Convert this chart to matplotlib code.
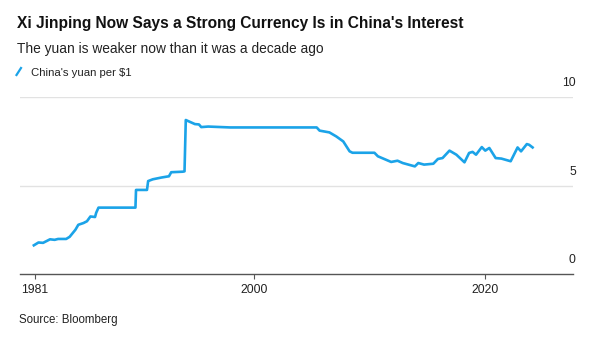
import numpy as np
import matplotlib
matplotlib.use("Agg")
import matplotlib.pyplot as plt
from matplotlib.lines import Line2D

plt.rcParams['font.family'] = ['Liberation Sans', 'DejaVu Sans']

# yuan per US dollar
years = [1980.9, 1981.3, 1981.7, 1982.3, 1982.7, 1983.0, 1983.7, 1984.0,
         1984.5, 1984.75, 1985.2, 1985.5, 1985.8, 1986.2, 1986.3, 1986.5,
         1989.7, 1989.75, 1990.7, 1990.8, 1991.2, 1991.95, 1992.4, 1992.6,
         1992.8, 1993.8, 1993.95, 1994.06, 1994.4, 1994.85, 1995.2, 1995.4,
         1996.0, 1997.9, 2005.4, 2005.65, 2006.5, 2007.1, 2007.7, 2008.25,
         2008.5, 2010.4, 2010.7, 2011.85, 2012.4, 2012.85, 2013.9, 2014.2,
         2014.7, 2015.5, 2015.9, 2016.3, 2016.9, 2017.5, 2018.2, 2018.6,
         2018.9, 2019.2, 2019.7, 2020.0, 2020.35, 2020.9, 2021.4, 2022.2,
         2022.8, 2023.1, 2023.6, 2023.8, 2024.1]
yuan = [1.62, 1.78, 1.76, 1.96, 1.93, 1.98, 1.98, 2.1,
        2.5, 2.78, 2.88, 2.98, 3.25, 3.22, 3.46, 3.75,
        3.75, 4.75, 4.75, 5.25, 5.35, 5.45, 5.5, 5.52,
        5.75, 5.78, 5.8, 8.7, 8.6, 8.47, 8.45, 8.3,
        8.33, 8.28, 8.28, 8.1, 8.0, 7.77, 7.49, 6.93,
        6.85, 6.85, 6.65, 6.33, 6.4, 6.27, 6.08, 6.27,
        6.18, 6.23, 6.5, 6.55, 6.97, 6.74, 6.31, 6.84,
        6.9, 6.74, 7.17, 6.97, 7.12, 6.55, 6.52, 6.37,
        7.15, 6.93, 7.34, 7.3, 7.15]

x_ticks = [1981, 2000, 2020]
y_ticks = [0, 5, 10]

blue = "#1ba3e8"

fig = plt.figure(figsize=(6.02, 3.43), dpi=100)
ax = fig.add_axes([20 / 602, 1 - 274 / 343, 553 / 602, 177 / 343])

ax.plot(years, yuan, color=blue, linewidth=1.9, solid_joinstyle="round")

ax.set_xlim(1979.7, 2027.6)
ax.set_ylim(0, 10)

for v in y_ticks[1:]:
    ax.axhline(v, color="#e2e2e2", linewidth=1.0, zorder=0)
for v in y_ticks:
    ax.annotate(str(v), xy=(1, v), xycoords=("axes fraction", "data"),
                xytext=(2, 5.5), textcoords="offset points",
                ha="right", va="bottom", fontsize=8.7, color="#222222")

for s in ["top", "right", "left"]:
    ax.spines[s].set_visible(False)
ax.spines["bottom"].set_color("#555555")
ax.spines["bottom"].set_linewidth(1.0)
ax.set_yticks([])
ax.set_xticks(x_ticks)
ax.set_xticklabels([str(t) for t in x_ticks])
ax.tick_params(axis="x", length=3.5, width=0.8, color="#555555",
               labelsize=8.8, labelcolor="#222222", pad=4)

fig.text(17 / 602, 1 - 28 / 343, "Xi Jinping Now Says a Strong Currency Is in China's Interest",
         fontsize=11.2, fontweight="bold", color="#111111", va="baseline")
fig.text(17 / 602, 1 - 53 / 343, "The yuan is weaker now than it was a decade ago",
         fontsize=9.9, color="#222222", va="baseline")
fig.add_artist(Line2D([16.5 / 602, 21 / 602], [1 - 75 / 343, 1 - 68 / 343],
                      color=blue, linewidth=1.6, transform=fig.transFigure))
fig.text(31 / 602, 1 - 75.5 / 343, "China's yuan per $1",
         fontsize=8.2, color="#222222", va="baseline")
fig.text(19 / 602, 1 - 323 / 343, "Source: Bloomberg",
         fontsize=8.3, color="#222222", va="baseline")

fig.savefig("out.png", dpi=100)
